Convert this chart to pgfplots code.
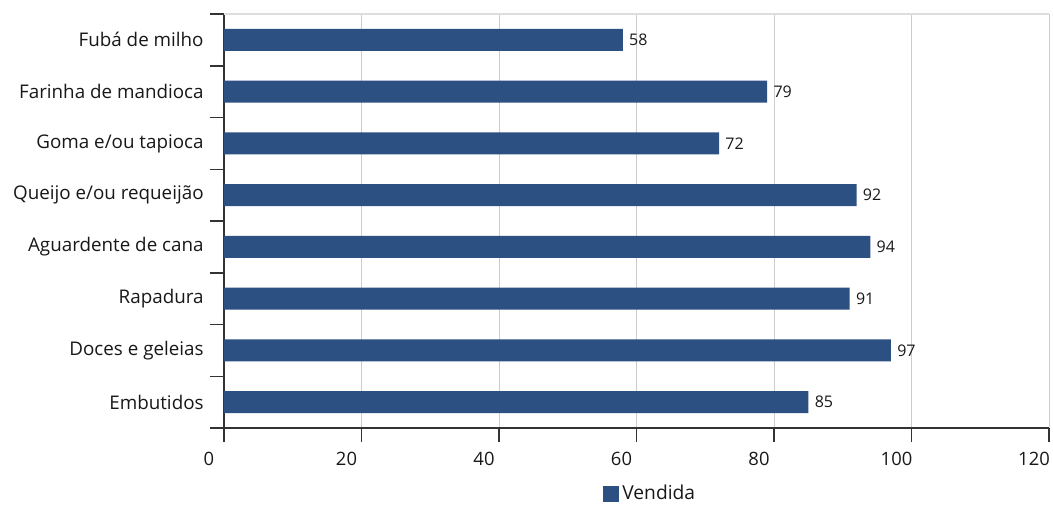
\documentclass[border=0pt]{standalone}
\usepackage{fontspec}
\setmainfont{Open Sans}
\usepackage{pgfplots}
\pgfplotsset{compat=1.18}
\definecolor{barblue}{HTML}{2D5083}
\definecolor{axisdark}{HTML}{333333}
\definecolor{gridgray}{HTML}{CCCCCC}
\definecolor{toprule}{HTML}{DDDDDD}
\definecolor{txt}{HTML}{1A1718}

\begin{document}
\begin{tikzpicture}
\useasboundingbox (-112pt,-38pt) rectangle (414.5pt,214pt);
\begin{axis}[
  at={(0,0)}, anchor=south west,
  scale only axis, width=412.5pt, height=207pt,
  xbar, bar width=11pt,
  xmin=0, xmax=120, ymin=-0.5, ymax=7.5,
  y dir=reverse,
  axis lines*=left,
  axis line style={-, axisdark, line width=0.75pt},
  xtick={0,20,...,120},
  xmajorgrids, grid style={gridgray, line width=0.5pt},
  tick align=outside, major tick length=7pt,
  tick style={axisdark, line width=0.75pt},
  ytick={-0.5,0.5,...,7.5}, yticklabels={},
  extra y ticks={0,1,2,3,4,5,6,7},
  extra y tick labels={Fubá de milho, Farinha de mandioca, Goma e/ou tapioca,
    Queijo e/ou requeijão, Aguardente de cana, Rapadura, Doces e geleias, Embutidos},
  extra y tick style={major tick length=0pt, tick style={draw=none}},
  yticklabel style={font=\fontsize{9.4}{10}\selectfont, text=txt, inner sep=0pt, anchor=east, xshift=-10pt},
  xticklabel style={font=\fontsize{9.2}{10}\selectfont, text=txt, inner sep=0pt, anchor=north, xshift=-7.5pt, yshift=-5pt},
  /pgf/number format/assume math mode=true,
  nodes near coords,
  every node near coord/.append style={font=\fontsize{8}{9}\selectfont, text=txt, anchor=west, inner sep=0pt, xshift=3pt},
  legend style={at={(axis description cs:0.4594,-0.159)}, anchor=west, draw=none, fill=none,
    inner sep=0pt, font=\fontsize{9.6}{10}\selectfont, text=txt,
    nodes={inner sep=1.5pt}},
  legend image code/.code={\fill[barblue] (0pt,-4pt) rectangle (8pt,4pt);},
]
\addplot[fill=barblue, draw=none] coordinates {
  (58,0) (79,1) (72,2) (92,3) (94,4) (91,5) (97,6) (85,7)
};
\addlegendentry{Vendida}
\end{axis}
\draw[toprule, line width=0.75pt] (current axis.north west) -- (current axis.north east);
\end{tikzpicture}
\end{document}
